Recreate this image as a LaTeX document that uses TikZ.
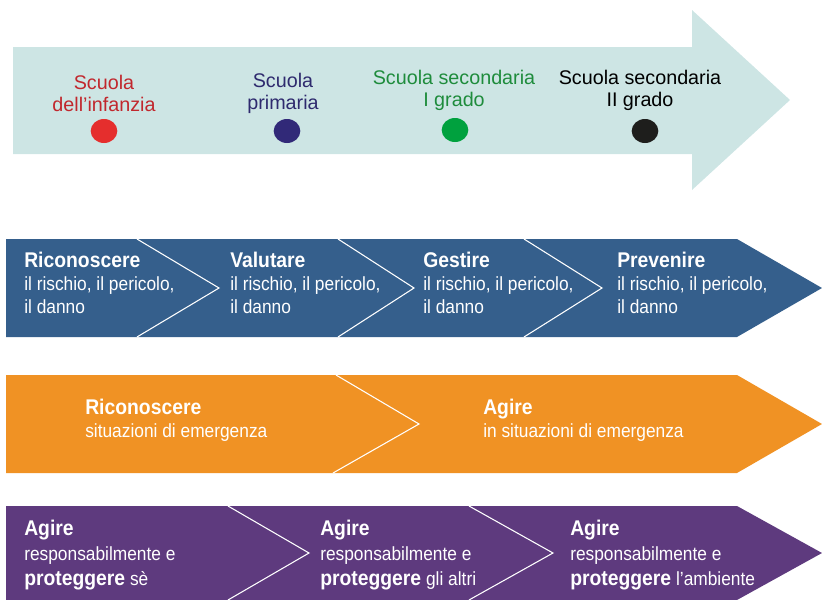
\documentclass[tikz,border=0pt]{standalone}
\usepackage{fontspec}
\setmainfont{Liberation Sans}
\usetikzlibrary{shapes.geometric}
\definecolor{timeline}{HTML}{CDE5E4}
\definecolor{redtxt}{HTML}{C1272D}
\definecolor{reddot}{HTML}{E52E2D}
\definecolor{navytxt}{HTML}{2E2A6E}
\definecolor{navydot}{HTML}{312978}
\definecolor{greentxt}{HTML}{1E8C3C}
\definecolor{greendot}{HTML}{00A13E}
\definecolor{blackdot}{HTML}{1E1E1C}
\definecolor{blueband}{HTML}{355F8C}
\definecolor{orangeband}{HTML}{F09224}
\definecolor{purpleband}{HTML}{5E3A7E}
\newcommand{\headline}[1]{{\fontsize{14.5}{14.5}\selectfont\bfseries #1}}
\tikzset{
  school/.style={align=center, inner sep=0pt, font=\fontsize{14.8}{16.5}\selectfont},
  dot/.style={ellipse, minimum width=20pt, minimum height=18pt, inner sep=0pt},
  bandtext/.style={anchor=north west, align=left, inner sep=0pt, text=white,
    yscale=1.1, transform shape},
  chevron/.style={draw=white, line width=0.8pt},
}
\begin{document}
\begin{tikzpicture}[x=0.75pt,y=-0.75pt]
  \useasboundingbox (0,0) rectangle (822,600);
  \fill[timeline] (13,47) -- (692,47) -- (692,10) -- (790,100) -- (692,190)
    -- (692,154) -- (13,154) -- cycle;
  \node[school, text=redtxt] (infanzia) at (104,93.5) {Scuola\\dell'infanzia};
  \node[school, text=navytxt] (primaria) at (283,93.5) {Scuola\\primaria};
  \node[school, text=greentxt] (primogrado) at (454,90.5) {Scuola secondaria\\I grado};
  \node[school, text=black] (secondogrado) at (640,90.5) {Scuola secondaria\\II grado};
  \node[dot, fill=reddot] (dotinfanzia) at (104,131) {};
  \node[dot, fill=navydot] (dotprimaria) at (287,131) {};
  \node[dot, fill=greendot] (dotprimogrado) at (455,130) {};
  \node[dot, fill=blackdot] (dotsecondogrado) at (645,131) {};

  \fill[blueband] (6,239) -- (737,239) -- (822,288) -- (737,337) -- (6,337) -- cycle;
  \foreach \x/\p in {137/219, 338/414, 524/602}
    \draw[chevron] (\x,239) -- (\p,288) -- (\x,337);
  \begin{scope}[every node/.append style={font=\fontsize{13}{15.7}\selectfont}]
    \node[bandtext] (riconoscere) at (24,251.5) {\headline{Riconoscere}\\il rischio, il pericolo,\\il danno};
    \node[bandtext] (valutare) at (230,251.5) {\headline{Valutare}\\il rischio, il pericolo,\\il danno};
    \node[bandtext] (gestire) at (423,251.5) {\headline{Gestire}\\il rischio, il pericolo,\\il danno};
    \node[bandtext] (prevenire) at (617,251.5) {\headline{Prevenire}\\il rischio, il pericolo,\\il danno};
  \end{scope}

  \fill[orangeband] (6,375) -- (737,375) -- (822,424) -- (737,473) -- (6,473) -- cycle;
  \draw[chevron] (336,375) -- (419,424) -- (333,473);
  \begin{scope}[every node/.append style={font=\fontsize{13}{16}\selectfont}]
    \node[bandtext] (riconoscereemerg) at (85,398.5) {\headline{Riconoscere}\\situazioni di emergenza};
    \node[bandtext] (agireemerg) at (483,398.5) {\headline{Agire}\\in situazioni di emergenza};
  \end{scope}

  \fill[purpleband] (6,506) -- (737,506) -- (822,553) -- (737,600) -- (6,600) -- cycle;
  \foreach \x/\p in {228/309, 469/553}
    \draw[chevron] (\x,506) -- (\p,553) -- (\x,600);
  \begin{scope}[every node/.append style={font=\fontsize{13}{17.05}\selectfont}]
    \node[bandtext] (agirese) at (24,520) {\headline{Agire}\\responsabilmente e\\\headline{proteggere} sè};
    \node[bandtext] (agirealtri) at (320,520) {\headline{Agire}\\responsabilmente e\\\headline{proteggere} gli altri};
    \node[bandtext] (agireambiente) at (570,520) {\headline{Agire}\\responsabilmente e\\\headline{proteggere} l'ambiente};
  \end{scope}
\end{tikzpicture}
\end{document}
